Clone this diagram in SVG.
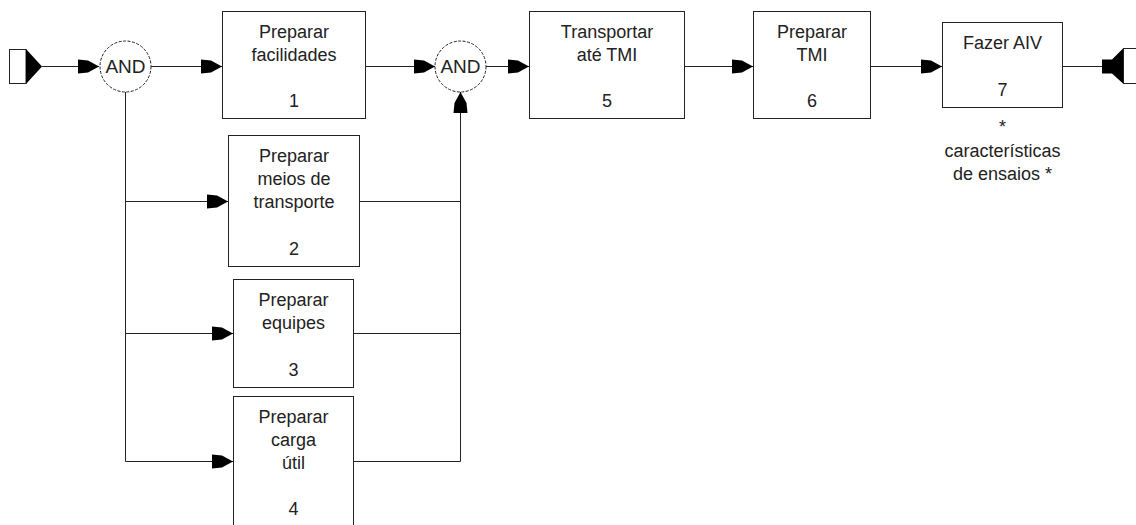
<svg xmlns="http://www.w3.org/2000/svg" width="1136" height="525" viewBox="0 0 1136 525">
<style>
.box{fill:#fff;stroke:#222;stroke-width:1}
.and{fill:#fff;stroke:#222;stroke-width:1;stroke-dasharray:3 1.5}
.t{font-family:"Liberation Sans",Arial,sans-serif;font-size:18px;fill:#222;text-anchor:middle}
.c{fill:none;stroke:#222;stroke-width:1}
.blk{fill:#000}
</style>
<defs>
<marker id="arr" markerUnits="userSpaceOnUse" orient="auto" refX="0" refY="0" markerWidth="30" markerHeight="20" overflow="visible">
<path d="M-21,-7 L-11,-6 L0,0 L-11,6 L-21,7 Z" fill="#000"/>
</marker>
</defs>
<rect width="1136" height="525" fill="#fff"/>
<g id="connectors">
<path class="c" d="M42,66.5 H99" marker-end="url(#arr)"/>
<path class="c" d="M151,66.5 H222" marker-end="url(#arr)"/>
<path class="c" d="M125.5,92 V461.5 H233" marker-end="url(#arr)"/>
<path class="c" d="M125.5,201.5 H228" marker-end="url(#arr)"/>
<path class="c" d="M125.5,333.5 H233" marker-end="url(#arr)"/>
<path class="c" d="M365.5,66.5 H435" marker-end="url(#arr)"/>
<path class="c" d="M359.5,201.5 H460.5"/>
<path class="c" d="M353.5,333.5 H460.5"/>
<path class="c" d="M353.5,461.5 H460.5 V92" marker-end="url(#arr)"/>
<path class="c" d="M486,66.5 H529" marker-end="url(#arr)"/>
<path class="c" d="M684.5,66.5 H753" marker-end="url(#arr)"/>
<path class="c" d="M870.5,66.5 H942" marker-end="url(#arr)"/>
<path class="c" d="M1062.5,66.5 H1102"/>
</g>
<g id="start">
<rect x="9.5" y="49.5" width="16.5" height="34" fill="#fff" stroke="#222"/>
<path class="blk" d="M26,49 L42,66.5 L26,84 Z"/>
</g>
<g id="end">
<path class="blk" d="M1102,59.5 H1112 L1123,48.5 V83.5 L1112,73.5 H1102 Z"/>
<rect x="1123.5" y="48.5" width="20" height="35" fill="#fff" stroke="#222"/>
</g>
<g id="and1">
<circle class="and" cx="125.5" cy="66.5" r="25.5"/>
<text class="t" x="125.5" y="73" style="font-size:19px">AND</text>
</g>
<g id="and2">
<circle class="and" cx="460.5" cy="66.5" r="25.5"/>
<text class="t" x="460.5" y="73" style="font-size:19px">AND</text>
</g>
<g id="node1">
<rect class="box" x="222.5" y="11.5" width="143" height="107"/>
<text class="t" x="294" y="38">Preparar</text>
<text class="t" x="294" y="61">facilidades</text>
<text class="t" x="294" y="107">1</text>
</g>
<g id="node2">
<rect class="box" x="228.5" y="135.5" width="131" height="131"/>
<text class="t" x="294" y="162">Preparar</text>
<text class="t" x="294" y="185">meios de</text>
<text class="t" x="294" y="208">transporte</text>
<text class="t" x="294" y="255">2</text>
</g>
<g id="node3">
<rect class="box" x="233.5" y="279.5" width="120" height="108"/>
<text class="t" x="293.5" y="306">Preparar</text>
<text class="t" x="293.5" y="329">equipes</text>
<text class="t" x="293.5" y="376">3</text>
</g>
<g id="node4">
<rect class="box" x="233.5" y="396.5" width="120" height="140"/>
<text class="t" x="293.5" y="423">Preparar</text>
<text class="t" x="293.5" y="446">carga</text>
<text class="t" x="293.5" y="469">útil</text>
<text class="t" x="293.5" y="515">4</text>
</g>
<g id="node5">
<rect class="box" x="529.5" y="11.5" width="155" height="107"/>
<text class="t" x="607" y="38">Transportar</text>
<text class="t" x="607" y="61">até TMI</text>
<text class="t" x="607" y="107">5</text>
</g>
<g id="node6">
<rect class="box" x="753.5" y="11.5" width="117" height="107"/>
<text class="t" x="812" y="38">Preparar</text>
<text class="t" x="812" y="61">TMI</text>
<text class="t" x="812" y="107">6</text>
</g>
<g id="node7">
<rect class="box" x="942.5" y="22.5" width="120" height="85"/>
<text class="t" x="1002.5" y="49">Fazer AIV</text>
<text class="t" x="1002.5" y="96">7</text>
<text class="t" x="1002.5" y="133">*</text>
<text class="t" x="1002.5" y="157">características</text>
<text class="t" x="1002.5" y="180">de ensaios *</text>
</g>
</svg>
